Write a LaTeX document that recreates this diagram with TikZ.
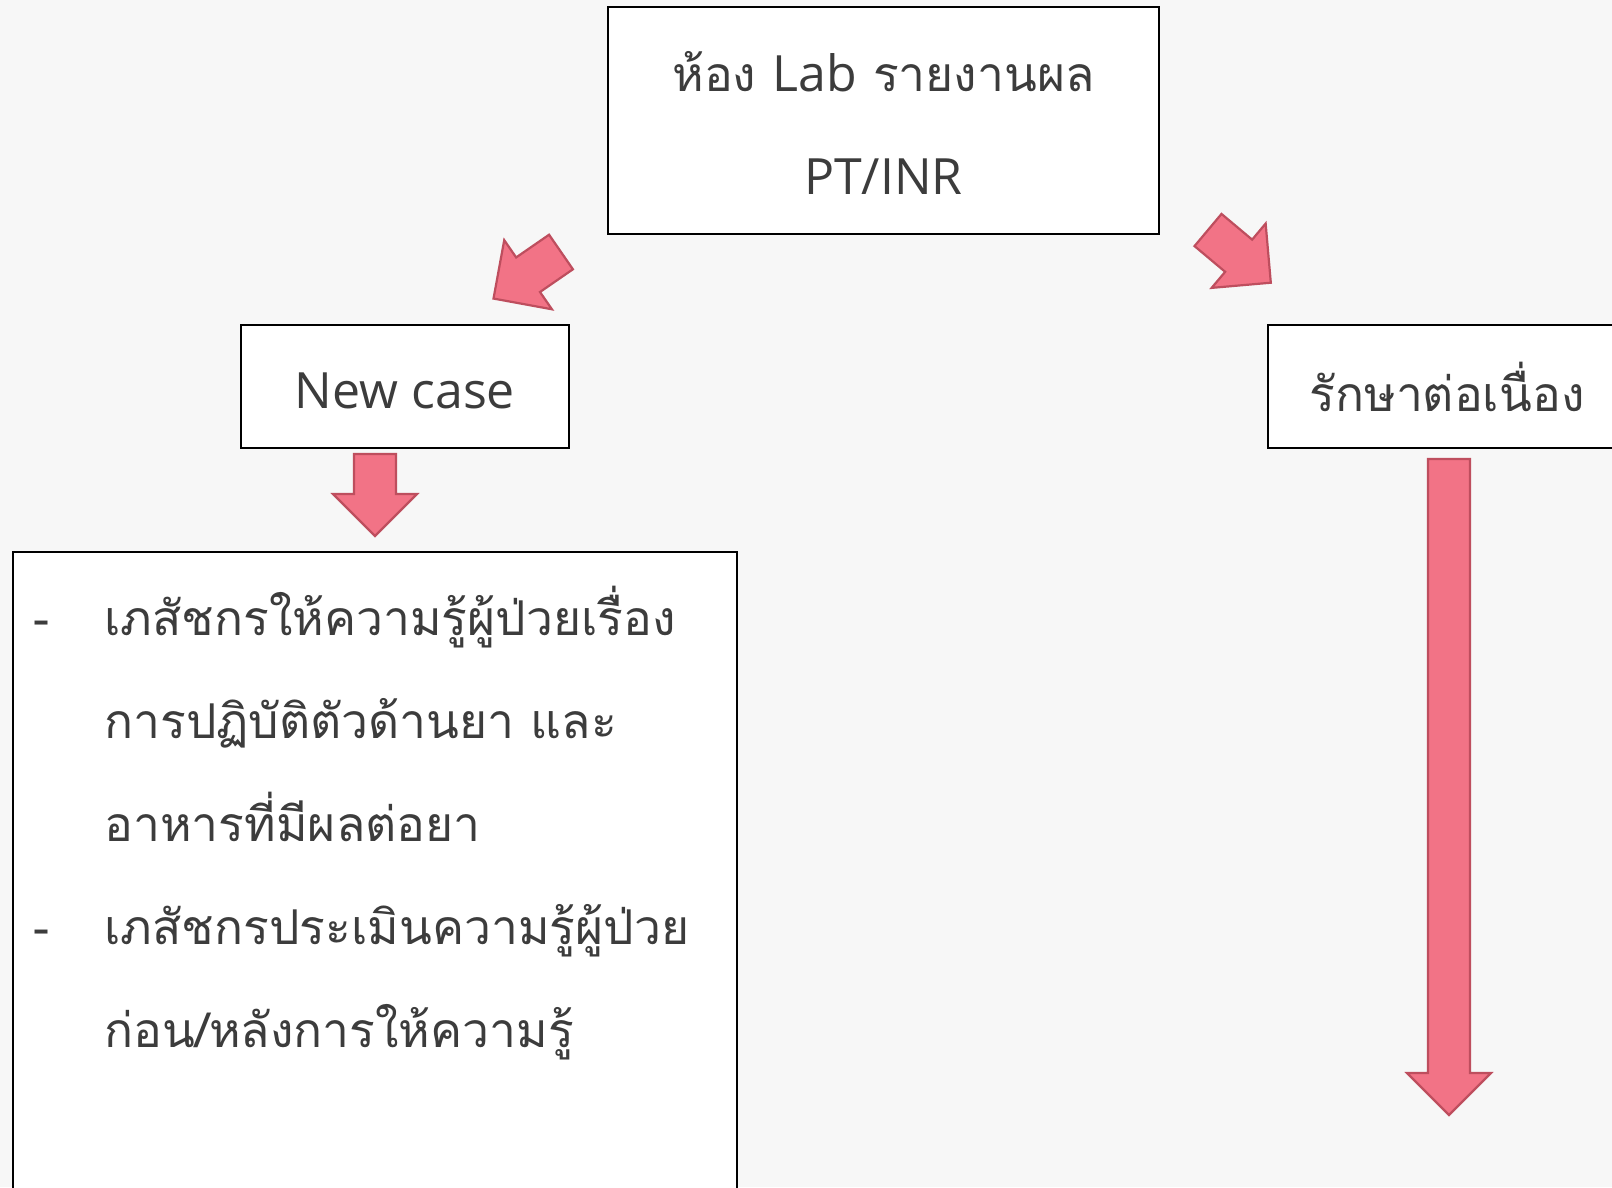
\documentclass[tikz,border=0pt]{standalone}
\usepackage{fontspec}
\setmainfont[Script=Thai]{Loma}
\newfontfamily\latinfont{Open Sans}
\usetikzlibrary{positioning}

\definecolor{pagebg}{HTML}{F7F7F7}
\definecolor{arrowpink}{HTML}{F27386}
\definecolor{arrowrim}{HTML}{BE4E5E}
\definecolor{inkgray}{HTML}{3C3C3C}

\tikzset{
    stepbox/.style   = {draw=black, line width=1.6pt, fill=white, inner sep=0pt},
    steptext/.style  = {text=inkgray, font=\fontsize{48}{103}\selectfont},
    bigarrow/.style  = {fill=arrowpink, draw=arrowrim, line width=2.2pt, line join=miter}
}

% block arrow: tail point, angle, length
\newcommand{\blockarrow}[3]{%
    \draw[bigarrow, shift={#1}, rotate=#2]
        (0,-21) -- (#3-42,-21) -- (#3-42,-42) -- (#3,0) -- (#3-42,42) -- (#3-42,21) -- (0,21) -- cycle;}

\begin{document}
\begin{tikzpicture}[x=1pt, y=-1pt, node distance = 2cm, on grid]
                \clip (0,0) rectangle (1612,1187);
                \fill[pagebg] (0,0) rectangle (1612,1187);

                \node[stepbox, minimum width=551pt, minimum height=227pt] (lab) at (883.5,120.5) {};
                \node[steptext, align=center] (lab_t) at (883.5,123) {ห้อง {\fontsize{50}{103}\latinfont Lab} รายงานผล\\{\fontsize{50}{103}\latinfont PT/INR}};
                \node[stepbox, minimum width=328pt, minimum height=123pt,
                      below left = 266pt and 478.5pt of lab]          (newcase) {};
                \node[steptext, font=\fontsize{50}{103}\latinfont] (newcase_t) at ([yshift=-4pt]newcase) {New case};
                \node[stepbox, minimum width=358pt, minimum height=123pt,
                      right = 1042pt of newcase]                       (cont) {};
                \node[steptext] (cont_t) at (cont) {รักษาต่อเนื่อง};
                \node[stepbox, minimum width=724pt, minimum height=700pt,
                      below left = 515.5pt and 30pt of newcase]        (teach) {};
                \node[steptext, anchor=north west, inner sep=0pt] (teach_t) at ([xshift=21pt, yshift=-12pt]teach.north west) {%
                    \begin{tabular}{@{}p{71pt}@{}l@{}}
                        - & เภสัชกรให้ความรู้ผู้ป่วยเรื่อง\\
                          & การปฏิบัติตัวด้านยา และ\\
                          & อาหารที่มีผลต่อยา\\
                        - & เภสัชกรประเมินความรู้ผู้ป่วย\\
                          & ก่อน/หลังการให้ความรู้
                    \end{tabular}};

                \blockarrow{(561,252)}{214.6}{82}
                \blockarrow{(1208,230)}{-40}{82}
                \blockarrow{(375,454)}{-90}{82}
                \blockarrow{(1449,459)}{-90}{656}
            \end{tikzpicture}
\end{document}
